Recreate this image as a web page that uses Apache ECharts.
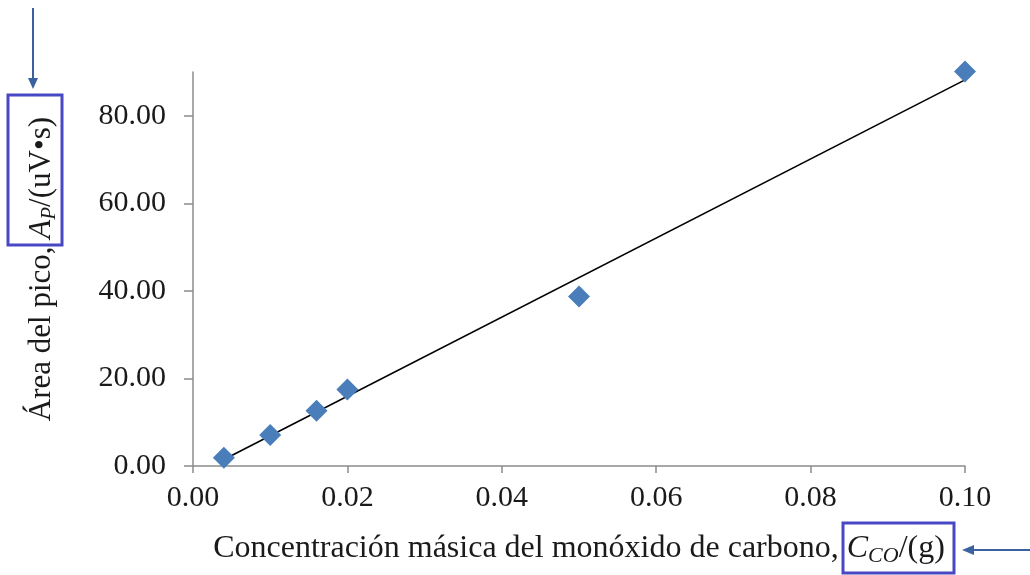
<!DOCTYPE html>
<html><head><meta charset="utf-8">
<script src="https://cdn.jsdelivr.net/npm/echarts@6/dist/echarts.min.js"></script>
<style>html,body{margin:0;padding:0;background:#fff}#c{width:1030px;height:575px}</style>
</head><body><div id="c"></div>
<script>
// Data
const concentration = [0.004, 0.010, 0.016, 0.020, 0.050, 0.100];
const peakArea = [1.9, 7.1, 12.6, 17.5, 38.7, 90.1];
const trendX = [0.004, 0.100];
const trendY = [1.5, 88.2];
const yTicks = [0, 20, 40, 60, 80];
const xTicks = [0, 0.02, 0.04, 0.06, 0.08, 0.10];

const FONT = '"Liberation Serif", "DejaVu Serif", serif';
const chart = echarts.init(document.getElementById('c'), null, {renderer: 'canvas'});
const boxColor = '#4848c4';
const arrowColor = '#3a62a0';
function rich(fs, sfs) {
  return {
    n: {fontFamily: FONT, fontSize: fs, color: '#1a1a1a', lineHeight: 36},
    i: {fontFamily: FONT, fontSize: fs, fontStyle: 'italic', color: '#1a1a1a', lineHeight: 36},
    sub: {fontFamily: FONT, fontSize: sfs, fontStyle: 'italic', color: '#1a1a1a', lineHeight: 22, verticalAlign: 'bottom'}
  };
}

chart.setOption({
  backgroundColor: '#fff',
  animation: false,
  grid: {left: 193, right: 65, top: 72, bottom: 109, containLabel: false},
  xAxis: {
    type: 'value', min: 0, max: 0.1, interval: 0.02,
    axisLine: {show: true, lineStyle: {color: '#8c8c8c', width: 1.5}},
    axisTick: {show: true, length: 7, lineStyle: {color: '#8c8c8c', width: 1.5}, customValues: xTicks},
    splitLine: {show: false},
    axisLabel: {customValues: xTicks, margin: 17, color: '#1a1a1a', fontFamily: FONT, fontSize: 30,
      formatter: v => v.toFixed(2)},
    name: '{n|Concentración másica del monóxido de carbono, }{i|C}{sub|CO}{n|/(g)}',
    nameLocation: 'middle', nameGap: 65,
    nameTextStyle: {rich: rich(32, 22)}
  },
  yAxis: {
    type: 'value', min: 0, max: 90, interval: 20,
    axisLine: {show: true, lineStyle: {color: '#8c8c8c', width: 1.5}},
    axisTick: {show: true, length: 9, lineStyle: {color: '#8c8c8c', width: 1.5}, customValues: yTicks},
    splitLine: {show: false},
    axisLabel: {customValues: yTicks, margin: 27, color: '#1a1a1a', fontFamily: FONT, fontSize: 30,
      formatter: v => v.toFixed(2)},
    name: '{n|Área del pico, }{i|A}{sub|P}{n|/(uV•s)}',
    nameLocation: 'middle', nameGap: 133, nameRotate: 90,
    nameTextStyle: {rich: rich(31, 21)}
  },
  series: [
    {
      type: 'line', data: trendX.map((x, i) => [x, trendY[i]]),
      showSymbol: false, symbol: 'none', lineStyle: {color: '#000', width: 1.6}, z: 2
    },
    {
      type: 'scatter', data: concentration.map((x, i) => [x, peakArea[i]]),
      symbol: 'diamond', symbolSize: [22, 22], clip: false,
      itemStyle: {color: '#4a7ebb', opacity: 1}, z: 3
    }
  ],
  graphic: [
    {type: 'rect', shape: {x: 8, y: 95, width: 54, height: 150}, style: {fill: 'none', stroke: boxColor, lineWidth: 3}},
    {type: 'line', shape: {x1: 33, y1: 8, x2: 33, y2: 84}, style: {stroke: arrowColor, lineWidth: 2}},
    {type: 'polygon', shape: {points: [[28, 78], [38, 78], [33, 89]]}, style: {fill: arrowColor}},
    {type: 'rect', shape: {x: 843, y: 523, width: 111, height: 50}, style: {fill: 'none', stroke: boxColor, lineWidth: 3}},
    {type: 'line', shape: {x1: 1030, y1: 550, x2: 968, y2: 550}, style: {stroke: arrowColor, lineWidth: 2}},
    {type: 'polygon', shape: {points: [[974, 545], [974, 555], [962, 550]]}, style: {fill: arrowColor}}
  ]
});
</script></body></html>
